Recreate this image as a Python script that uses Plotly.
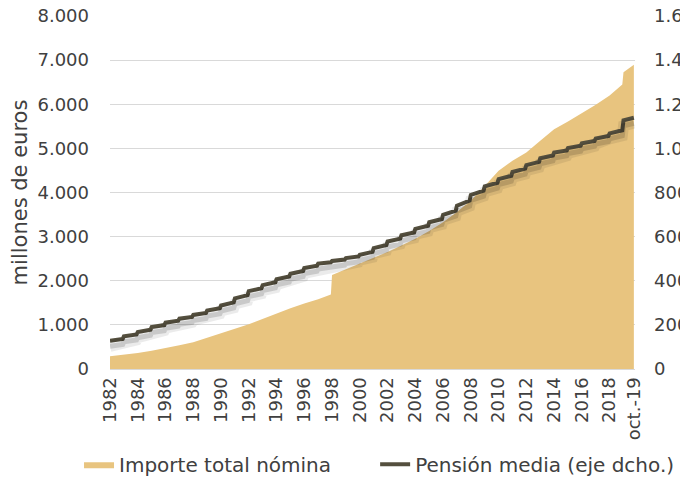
import plotly.graph_objects as go

# --- data ---
area_dates = ["1982-01-01","1983-01-01","1984-01-01","1985-01-01","1986-01-01","1987-01-01",
              "1988-01-01","1989-01-01","1990-01-01","1991-01-01","1992-01-01","1993-01-01",
              "1994-01-01","1995-01-01","1996-01-01","1997-01-01","1997-12-01","1998-01-01",
              "1999-01-01","2000-01-01","2001-01-01","2002-01-01","2003-01-01","2004-01-01",
              "2005-01-01","2006-01-01","2007-01-01","2008-01-01","2009-01-01","2010-01-01",
              "2011-01-01","2012-01-01","2013-01-01","2014-01-01","2015-01-01","2016-01-01",
              "2017-01-01","2018-01-01","2018-12-01","2019-01-01","2019-10-01"]
importe_total = [290, 325, 360, 415, 473, 540, 608, 705, 811, 910, 1014, 1140,
                 1262, 1375, 1487, 1580, 1690, 2130, 2260, 2389, 2520, 2652, 2800, 2952,
                 3130, 3328, 3560, 3816, 4150, 4492, 4720, 4906, 5170, 5431, 5610, 5792,
                 5990, 6197, 6450, 6723, 6896]

# pension: value after the January revaluation and value in December of each year
pension_dates = ["1982-01-01","1982-12-01","1983-01-01","1983-12-01","1984-01-01","1984-12-01",
                 "1985-01-01","1985-12-01","1986-01-01","1986-12-01","1987-01-01","1987-12-01",
                 "1988-01-01","1988-12-01","1989-01-01","1989-12-01","1990-01-01","1990-12-01",
                 "1991-01-01","1991-12-01","1992-01-01","1992-12-01","1993-01-01","1993-12-01",
                 "1994-01-01","1994-12-01","1995-01-01","1995-12-01","1996-01-01","1996-12-01",
                 "1997-01-01","1997-12-01","1998-01-01","1998-12-01","1999-01-01","1999-12-01",
                 "2000-01-01","2000-12-01","2001-01-01","2001-12-01","2002-01-01","2002-12-01",
                 "2003-01-01","2003-12-01","2004-01-01","2004-12-01","2005-01-01","2005-12-01",
                 "2006-01-01","2006-12-01","2007-01-01","2007-12-01","2008-01-01","2008-12-01",
                 "2009-01-01","2009-12-01","2010-01-01","2010-12-01","2011-01-01","2011-12-01",
                 "2012-01-01","2012-12-01","2013-01-01","2013-12-01","2014-01-01","2014-12-01",
                 "2015-01-01","2015-12-01","2016-01-01","2016-12-01","2017-01-01","2017-12-01",
                 "2018-01-01","2018-12-01","2019-01-01","2019-10-01"]
pension_media = [128, 136, 148, 157, 167, 178, 190, 199, 210, 219, 228, 236,
                 245, 254, 265, 275, 288, 302, 320, 335, 353, 366, 380, 393,
                 407, 419, 432, 444, 458, 468, 478, 484, 490, 496, 503, 510,
                 518, 531, 548, 562, 578, 591, 606, 619, 635, 649, 665, 680,
                 699, 718, 740, 763, 789, 808, 828, 844, 861, 876, 893, 908,
                 924, 939, 955, 968, 981, 991, 1002, 1012, 1023, 1034, 1045, 1056,
                 1068, 1082, 1127, 1139]

tick_vals = ["1982-01-01","1984-01-01","1986-01-01","1988-01-01","1990-01-01","1992-01-01",
             "1994-01-01","1996-01-01","1998-01-01","2000-01-01","2002-01-01","2004-01-01",
             "2006-01-01","2008-01-01","2010-01-01","2012-01-01","2014-01-01","2016-01-01",
             "2018-01-01","2019-10-01"]
tick_text = ["1982","1984","1986","1988","1990","1992","1994","1996","1998","2000",
             "2002","2004","2006","2008","2010","2012","2014","2016","2018","oct.-19"]

AREA = "#E8C47F"
LINE = "#544F3E"
FONT = "DejaVu Sans"
TXT = "#404040"
FS = 18

fig = go.Figure()
fig.add_trace(go.Scatter(x=area_dates, y=importe_total, name="Importe total nómina",
                         mode="lines", fill="tozeroy", fillcolor=AREA,
                         line=dict(color=AREA, width=0), yaxis="y", legend="legend"))
# soft shadow of the line
fig.add_trace(go.Scatter(x=pension_dates, y=pension_media, mode="lines",
                         line=dict(color="rgba(0,0,0,0.08)", width=11), yaxis="y3",
                         showlegend=False, hoverinfo="skip"))
fig.add_trace(go.Scatter(x=pension_dates, y=pension_media, mode="lines",
                         line=dict(color="rgba(0,0,0,0.14)", width=5), yaxis="y3",
                         showlegend=False, hoverinfo="skip"))
fig.add_trace(go.Scatter(x=pension_dates, y=pension_media, name="Pensión media (eje dcho.)",
                         mode="lines", line=dict(color=LINE, width=4),
                         yaxis="y2", legend="legend2"))

fig.update_layout(
    width=688, height=484,
    margin=dict(l=102, r=61, t=8, b=121),
    paper_bgcolor="white", plot_bgcolor="white",
    separators=",.",
    font=dict(family=FONT, size=FS, color=TXT),
    showlegend=True,
    legend=dict(orientation="h", x=-0.059, xanchor="left", y=-0.27, yanchor="middle",
                font=dict(size=20, color=TXT)),
    legend2=dict(orientation="h", x=0.505, xanchor="left", y=-0.27, yanchor="middle",
                 font=dict(size=20, color=TXT)),
    xaxis=dict(type="date", range=["1982-01-01", "2019-10-31"], tickmode="array",
               tickvals=tick_vals, ticktext=tick_text, tickangle=-90, automargin=False,
               showgrid=False, showline=True, linecolor="#d9d9d9", linewidth=1,
               ticks="", tickfont=dict(size=FS, color=TXT), zeroline=False,
               ticklabeloverflow="allow"),
    yaxis=dict(range=[0, 8000], dtick=1000, tickformat=",.0f", showgrid=True,
               gridcolor="#d9d9d9", gridwidth=1, zeroline=False, showline=False,
               ticklabelstandoff=20, automargin=False, ticklabeloverflow="allow",
               title=dict(text="millones de euros", font=dict(size=21, color=TXT), standoff=8),
               tickfont=dict(size=FS, color=TXT)),
    yaxis2=dict(range=[0, 1600], dtick=200, tickformat=",.0f", overlaying="y", side="right",
                showgrid=False, zeroline=False, showline=False, ticklabelstandoff=18,
                automargin=False, ticklabeloverflow="allow", tickfont=dict(size=FS, color=TXT)),
    yaxis3=dict(range=[25, 1625], overlaying="y", visible=False),
)

fig.write_html("out.html")
